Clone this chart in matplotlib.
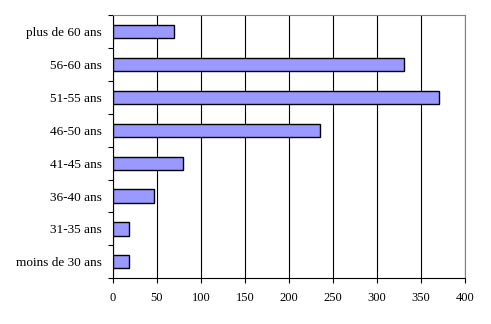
import matplotlib.pyplot as plt
import numpy as np

# tranches d'age et effectifs
categories = ["moins de 30 ans", "31-35 ans", "36-40 ans", "41-45 ans",
              "46-50 ans", "51-55 ans", "56-60 ans", "plus de 60 ans"]
valeurs = [18, 18, 47, 80, 235, 370, 330, 70]
xticks = [0, 50, 100, 150, 200, 250, 300, 350, 400]

plt.rcParams['font.family'] = ['Liberation Serif', 'DejaVu Serif']

fig = plt.figure(figsize=(4.91, 3.24), dpi=100)
ax = fig.add_axes([0.2295, 0.141, 0.7182, 0.8127])

pos = np.arange(len(categories))
ax.barh(pos, valeurs, height=0.4, color='#9999FF', edgecolor='black',
        linewidth=1.0, zorder=3)

ax.set_xlim(0, 400)
ax.set_ylim(-0.5, len(categories) - 0.5)
ax.set_xticks(xticks)
ax.set_xticklabels([str(t) for t in xticks], fontsize=9)

# labels au centre, petits traits aux limites des categories
ax.set_yticks(pos)
ax.set_yticklabels(categories, fontsize=9.5)
ax.set_yticks(np.arange(-0.5, len(categories), 1), minor=True)
ax.tick_params(axis='y', which='major', length=0, pad=8)
ax.tick_params(axis='y', which='minor', length=3.5, width=0.8, direction='out')
ax.tick_params(axis='x', length=3.5, width=0.8, direction='out', pad=6)

ax.grid(axis='x', color='black', linewidth=0.8, zorder=0)
ax.set_axisbelow(True)

ax.spines['left'].set_color('black')
ax.spines['bottom'].set_color('black')
ax.spines['top'].set_color('#808080')
ax.spines['right'].set_color('#808080')
for s in ax.spines.values():
    s.set_linewidth(0.8)

plt.savefig("out.png", dpi=100)
